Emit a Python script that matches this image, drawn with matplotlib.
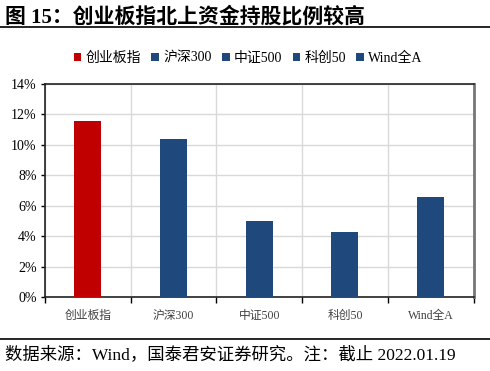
import matplotlib
matplotlib.use("Agg")
import matplotlib.pyplot as plt
from matplotlib.lines import Line2D
from matplotlib.ticker import FuncFormatter, MultipleLocator

plt.rcParams['font.family'] = ['Liberation Serif', 'Noto Sans CJK SC']

categories = ['创业板指', '沪深300', '中证500', '科创50', 'Wind全A']
values = [11.6, 10.4, 5.0, 4.3, 6.55]
colors = ['#C00000', '#1F497D', '#1F497D', '#1F497D', '#1F497D']
title = '图 15：创业板指北上资金持股比例较高'
footer = '数据来源：Wind，国泰君安证券研究。注：截止 2022.01.19'

fig = plt.figure(figsize=(4.9, 3.71), dpi=100)
ax = fig.add_axes([45/490, 1-297/371, (473.5-45)/490, (297-84)/371])

for i, (c, v, col) in enumerate(zip(categories, values, colors)):
    ax.bar(i, v, width=0.315, color=col, label=c, zorder=3)

ax.set_xlim(-0.5, len(categories)-0.5)
ax.set_ylim(0, 14)
ax.yaxis.set_major_locator(MultipleLocator(2))
ax.yaxis.set_major_formatter(FuncFormatter(lambda y, p: f'{y:.0f}%'))
ax.set_xticks(range(len(categories)))
ax.set_xticklabels(categories, fontsize=8.5, color='#404040')
ax.tick_params(axis='x', length=0, pad=9)
ax.tick_params(axis='y', labelsize=10, length=3, width=1, direction='out', colors='black', pad=3)

# minor ticks at category boundaries
ax.set_xticks([i-0.5 for i in range(len(categories)+1)], minor=True)
ax.tick_params(axis='x', which='minor', length=4, width=1, direction='out')
ax.grid(axis='y', which='major', color='#D9D9D9', linewidth=1, zorder=0)
ax.grid(axis='x', which='minor', color='#D9D9D9', linewidth=1, zorder=0)

for s in ['left', 'bottom', 'top']:
    ax.spines[s].set_color('#222222')
    ax.spines[s].set_linewidth(1.2)
ax.spines['right'].set_color('#777777')
ax.spines['right'].set_linewidth(2)

leg = fig.legend(loc='center', bbox_to_anchor=(248/490, 1-58/371), ncol=5, frameon=False,
                 fontsize=10, handlelength=0.55, handleheight=0.55, handletextpad=0.3,
                 columnspacing=0.75)

fig.text(5/490, 1-17/371, title, fontsize=15, fontweight='bold', va='center', ha='left')
fig.add_artist(Line2D([0, 1], [1-27/371, 1-27/371], color='black', linewidth=1.2))
fig.add_artist(Line2D([0, 1], [1-339/371, 1-339/371], color='black', linewidth=1.2))
fig.text(5/490, 1-355/371, footer, fontsize=12.5, va='center', ha='left')

fig.savefig('out.png', dpi=100)
